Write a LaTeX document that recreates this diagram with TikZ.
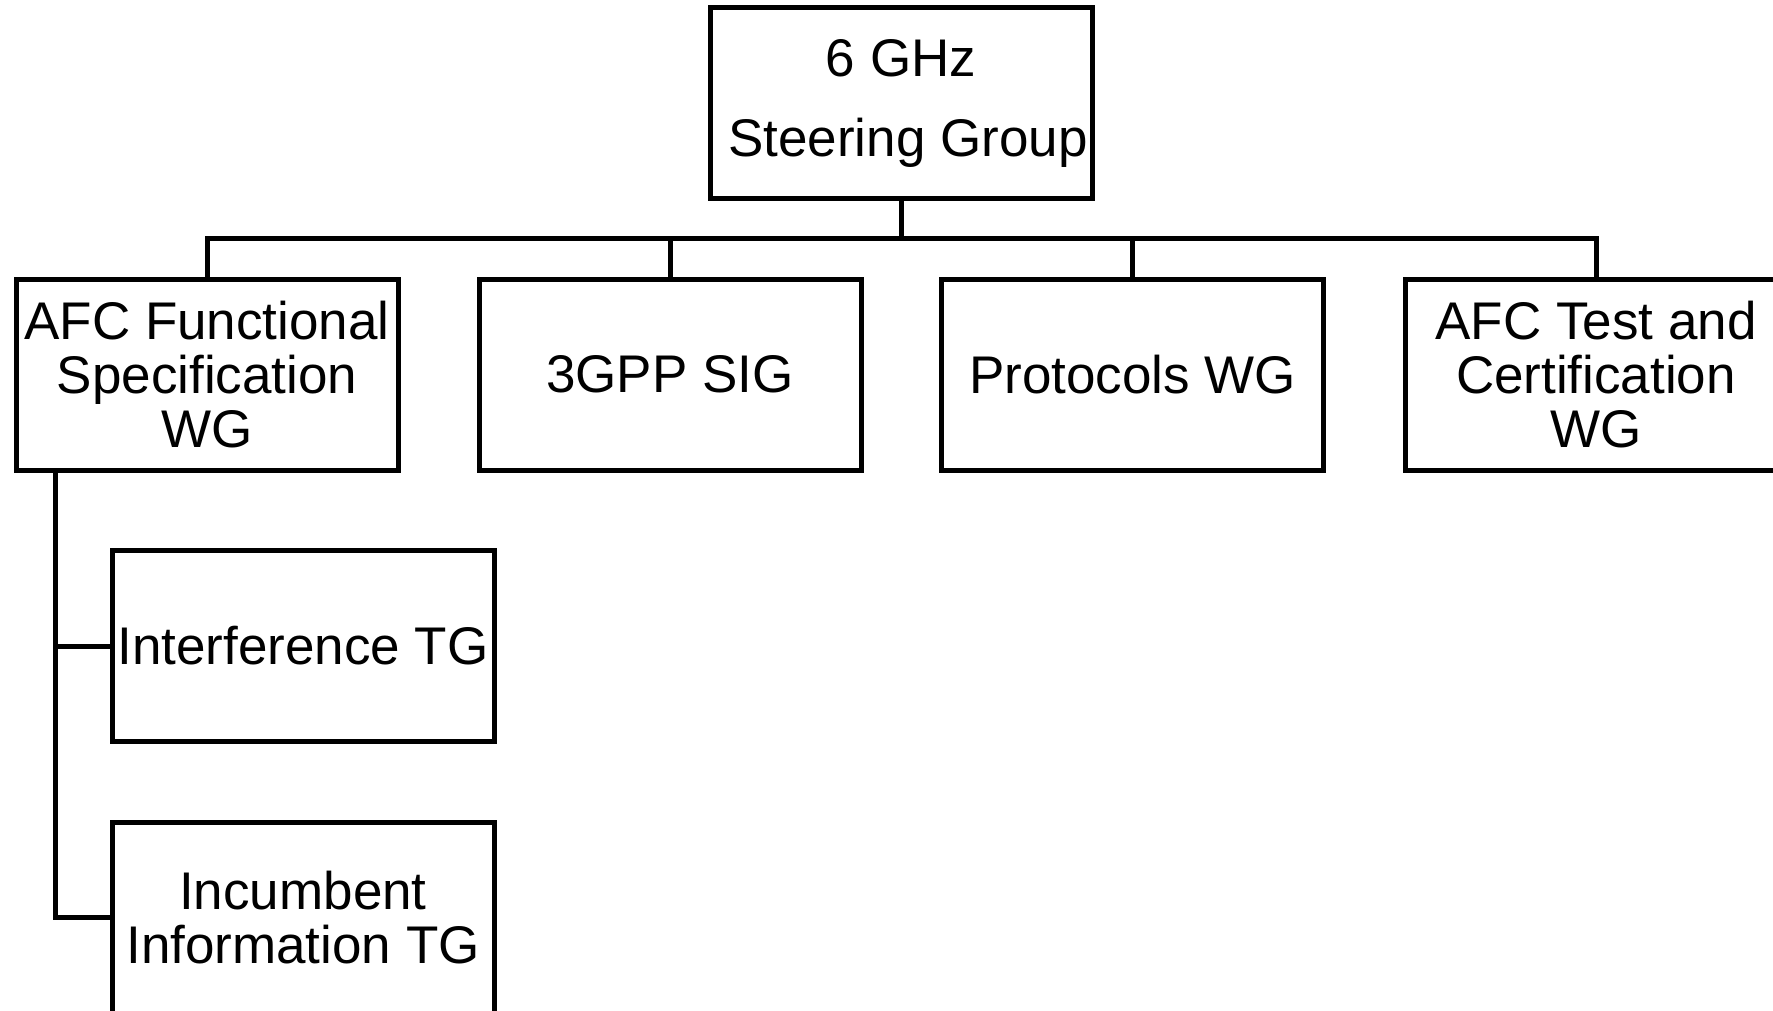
\documentclass[tikz,border=0pt]{standalone}
\usepackage{fontspec}
\setmainfont{Liberation Sans}
\begin{document}
\begin{tikzpicture}[x=0.5pt,y=-0.5pt,
  orgbox/.style={draw=black,line width=2.5pt,fill=white,minimum width=191pt,minimum height=95.5pt,inner sep=0pt,align=center,font=\fontsize{26.5}{27}\selectfont},
  link/.style={draw=black,line width=2.5pt}]
\useasboundingbox (0,0) rectangle (1773,1011);
\node[orgbox] (top) at (901,103) {6 GHz\\[13pt]\hspace*{7pt}Steering Group};
\node[orgbox] (b1) at (207,374.5) {AFC Functional\\Specification\\WG};
\node[orgbox] (b2) at (670,374.5) {3GPP SIG};
\node[orgbox] (b3) at (1132.5,374.5) {Protocols WG};
\node[orgbox] (b4) at (1596,374.5) {AFC Test and\\Certification\\WG};
\node[orgbox] (b5) at (303,646) {Interference TG};
\node[orgbox] (b6) at (303,917.5) {Incumbent\\Information TG};
\coordinate (bus) at (901,238);
\coordinate (lft) at (55,470);
\draw[link] (top.south) -- (bus) -| (b1.north);
\draw[link] (bus) -| (b2.north);
\draw[link] (bus) -| (b3.north);
\draw[link] (bus) -| (b4.north);
\draw[link] (b1.south -| lft) |- (b5.west);
\draw[link] (b1.south -| lft) |- (b6.west);
\end{tikzpicture}
\end{document}
